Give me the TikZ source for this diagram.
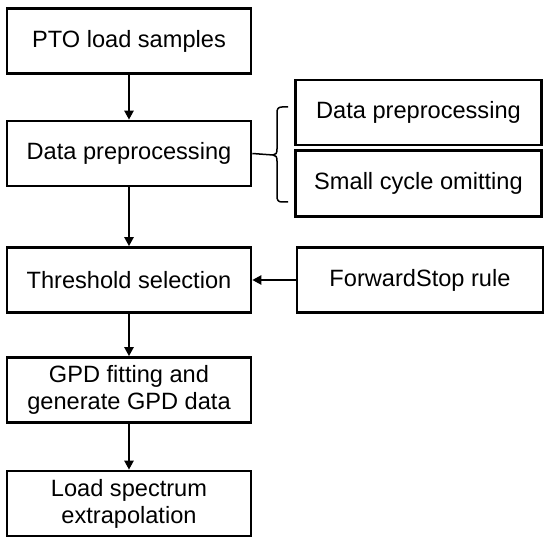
\documentclass[tikz,border=0pt]{standalone}
\usepackage{fontspec}
\setmainfont{Liberation Sans}
\usetikzlibrary{arrows.meta}
\begin{document}
\begin{tikzpicture}[x=1pt,y=-1pt,
  box/.style={draw, line width=2.6pt, minimum height=65pt, align=center, inner sep=0pt,
    font=\fontsize{23.6}{27}\selectfont},
  lbox/.style={box, minimum width=244pt},
  rbox/.style={box, minimum width=246pt},
  arr/.style={line width=2.2pt, -{Triangle[length=9pt,width=9pt]}}]
\useasboundingbox (0,0) rectangle (550,545);
\node[lbox] (pto) at (129,41) {PTO load samples};
\node[lbox] (dp) at (129,153.5) {Data preprocessing};
\node[lbox] (ts) at (129,280) {Threshold selection};
\node[lbox] (gpd) at (129,390) {GPD fitting and\\generate GPD data};
\node[lbox] (ls) at (129,503.5) {Load spectrum\\extrapolation};
\node[rbox, minimum height=65pt] (rdp) at (418.5,112.5) {Data preprocessing};
\node[rbox, minimum height=66pt] (sco) at (418.5,183.5) {Small cycle omitting};
\node[rbox] (fs) at (420,280) {ForwardStop rule};
\draw[arr] (pto) -- (dp);
\draw[arr] (dp) -- (ts);
\draw[arr] (ts) -- (gpd);
\draw[arr] (gpd) -- (ls);
\draw[arr] (fs) -- (ts);
\coordinate (tip) at (273,155);
\coordinate (btop) at (288,107);
\coordinate (bbot) at (288,202);
\draw[line width=1.5pt] (dp.east) -- (tip);
\draw[line width=1.5pt, line join=round]
  (btop) -- (282,107) .. controls (278,107) and (277,109) .. (277,113)
  -- (277,149) .. controls (277,153) and (276,155) .. (tip)
  .. controls (276,155) and (277,157) .. (277,161)
  -- (277,196) .. controls (277,200) and (278,202) .. (282,202) -- (bbot);
\end{tikzpicture}
\end{document}
